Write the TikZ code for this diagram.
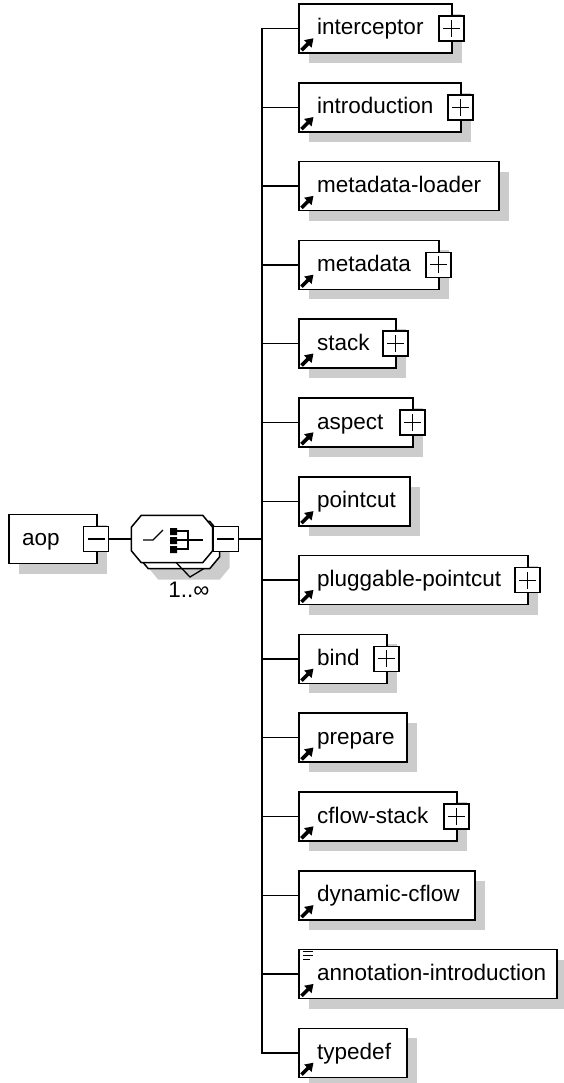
\documentclass[tikz,border=0pt]{standalone}
\usepackage{fontspec}
\setmainfont{Liberation Sans}
\usetikzlibrary{arrows.meta,shadows}

% glyphs inside the element boxes
\newcommand{\refmark}[1]{\draw[refarrow] ([shift={(3.5,-3.5)}]#1.south west) -- ++(12,-12);}
\newcommand{\docmark}[1]{%
  \draw[docline] ([shift={(5,3)}]#1.north west) -- ++(10,0)
                 ([shift={(5,7)}]#1.north west) -- ++(10,0)
                 ([shift={(5,11)}]#1.north west) -- ++(7,0);}
% octagon outline of a compositor node
\newcommand{\octagon}[2]{%
  \path[#2] ([xshift=10pt]#1.north west) -- ([xshift=-10pt]#1.north east)
    -- ([yshift=-12pt]#1.north east) -- ([yshift=12pt]#1.south east)
    -- ([xshift=-10pt]#1.south east) -- ([xshift=10pt]#1.south west)
    -- ([yshift=12pt]#1.south west) -- ([yshift=-12pt]#1.north west) -- cycle;}

\begin{document}
\begin{tikzpicture}[x=1pt,y=-1pt]
        \tikzset{boxshadow/.style={drop shadow={shadow xshift=10pt,shadow yshift=-10pt,fill=black!20,opacity=1}}}
        \tikzset{elem/.style={draw,line width=1.5,fill=white,anchor=west,
                 minimum height=49,inner sep=0,boxshadow}}
        \tikzset{elemname/.style={anchor=west,xshift=19pt,inner sep=0,
                 text height=17pt,text depth=4pt,font=\fontsize{22.5}{27}\selectfont}}
        \tikzset{plusbox/.style={draw,line width=1.5,fill=white,minimum size=25,inner sep=0,
                 path picture={\draw[line width=1.1]
                   ([xshift=4pt]path picture bounding box.west) -- ([xshift=-4pt]path picture bounding box.east)
                   ([yshift=-4pt]path picture bounding box.north) -- ([yshift=4pt]path picture bounding box.south);}}}
        \tikzset{minusbox/.style={draw,line width=1.5,fill=white,minimum size=25,inner sep=0,
                 path picture={\draw[line width=1.1]
                   ([xshift=4pt]path picture bounding box.west) -- ([xshift=-4pt]path picture bounding box.east);}}}
        \tikzset{seqbox/.style={minimum width=81,minimum height=47,inner sep=0}}
        \tikzset{seqline/.style={draw,line width=1.5,fill=white}}
        \tikzset{branch/.style={line width=1.3}}
        \tikzset{refarrow/.style={line width=3.6,-{Triangle[length=8pt,width=10pt]}}}
        \tikzset{docline/.style={line width=1.2}}
        \useasboundingbox (0,0) rectangle (563,1083);

        % root element and its sequence
        \node[elem,minimum width=88,label={[elemname,xshift=-5pt]west:aop}] (aop) at (8,539) {};
        \node[minusbox] (aop-minus) at ([xshift=-1.5pt]aop.east) {};
        \node[seqbox] (seq-shadow) at (189,556) {};
        \node[seqbox] (seq-back) at (179,545) {};
        \node[seqbox] (seq) at (172,539) {};
        \octagon{seq-shadow}{fill=black!20}
        \octagon{seq-back}{seqline}
        \draw[line width=1.3] (176,562.5) -- (190,577) -- (204,568.5);
        \octagon{seq}{seqline}
        \node[minusbox,anchor=west] (seq-minus) at (seq.east) {};
        \node[font=\fontsize{22.5}{27}\selectfont] (seq-occurs) at (189,590) {1..∞};

        % sequence glyph
        \draw[line width=1.3] ([shift={(-29,1)}]seq.center) -- ++(10,0) -- ++(10,-10);
        \fill ([shift={(-2,-11)}]seq.center) rectangle ++(7,7)
              ([shift={(-2,-2)}]seq.center) rectangle ++(7,7)
              ([shift={(-2,7)}]seq.center) rectangle ++(7,7);
        \draw[line width=1.1] ([shift={(5,-8)}]seq.center) -| ([shift={(16,10)}]seq.center) -- ++(-11,0)
              ([shift={(5,1)}]seq.center) -- ([shift={(31,1)}]seq.center);

        \coordinate (fork) at (262,539);
        \draw[branch] (aop-minus) -- (seq);
        \draw[branch] (seq-minus.east) -- (fork);

        % child elements
        \node[elem,minimum width=153,label={[elemname]west:interceptor}] (interceptor) at (298,28.5) {};
        \node[elem,minimum width=162,label={[elemname]west:introduction}] (introduction) at (298,107.3) {};
        \node[elem,minimum width=200,label={[elemname]west:metadata-loader}] (metadata-loader) at (298,186.1) {};
        \node[elem,minimum width=140,label={[elemname]west:metadata}] (metadata) at (298,264.9) {};
        \node[elem,minimum width=97,label={[elemname]west:stack}] (stack) at (298,343.7) {};
        \node[elem,minimum width=114,label={[elemname]west:aspect}] (aspect) at (298,422.5) {};
        \node[elem,minimum width=111,label={[elemname]west:pointcut}] (pointcut) at (298,501.3) {};
        \node[elem,minimum width=229,label={[elemname]west:pluggable-pointcut}] (pluggable-pointcut) at (298,580.1) {};
        \node[elem,minimum width=88,label={[elemname]west:bind}] (bind) at (298,658.9) {};
        \node[elem,minimum width=108,label={[elemname]west:prepare}] (prepare) at (298,737.7) {};
        \node[elem,minimum width=158,label={[elemname]west:cflow-stack}] (cflow-stack) at (298,816.5) {};
        \node[elem,minimum width=176,label={[elemname]west:dynamic-cflow}] (dynamic-cflow) at (298,895.3) {};
        \node[elem,minimum width=258,label={[elemname]west:annotation-introduction}] (annotation-introduction) at (298,974.1) {};
        \node[elem,minimum width=108,label={[elemname]west:typedef}] (typedef) at (298,1052.9) {};

        % expand boxes
        \node[plusbox] (interceptor-plus) at ([xshift=-1pt]interceptor.east) {};
        \node[plusbox] (introduction-plus) at ([xshift=-1pt]introduction.east) {};
        \node[plusbox] (metadata-plus) at ([xshift=-1pt]metadata.east) {};
        \node[plusbox] (stack-plus) at ([xshift=-1pt]stack.east) {};
        \node[plusbox] (aspect-plus) at ([xshift=-1pt]aspect.east) {};
        \node[plusbox] (pluggable-pointcut-plus) at ([xshift=-1pt]pluggable-pointcut.east) {};
        \node[plusbox] (bind-plus) at ([xshift=-1pt]bind.east) {};
        \node[plusbox] (cflow-stack-plus) at ([xshift=-1pt]cflow-stack.east) {};

        % reference arrows
        \refmark{interceptor}
        \refmark{introduction}
        \refmark{metadata-loader}
        \refmark{metadata}
        \refmark{stack}
        \refmark{aspect}
        \refmark{pointcut}
        \refmark{pluggable-pointcut}
        \refmark{bind}
        \refmark{prepare}
        \refmark{cflow-stack}
        \refmark{dynamic-cflow}
        \refmark{annotation-introduction}
        \refmark{typedef}
        \docmark{annotation-introduction}

        \draw[branch] (fork) |- (interceptor.west)
                      (fork) |- (introduction.west)
                      (fork) |- (metadata-loader.west)
                      (fork) |- (metadata.west)
                      (fork) |- (stack.west)
                      (fork) |- (aspect.west)
                      (fork) |- (pointcut.west)
                      (fork) |- (pluggable-pointcut.west)
                      (fork) |- (bind.west)
                      (fork) |- (prepare.west)
                      (fork) |- (cflow-stack.west)
                      (fork) |- (dynamic-cflow.west)
                      (fork) |- (annotation-introduction.west)
                      (fork) |- (typedef.west);
\end{tikzpicture}
\end{document}
